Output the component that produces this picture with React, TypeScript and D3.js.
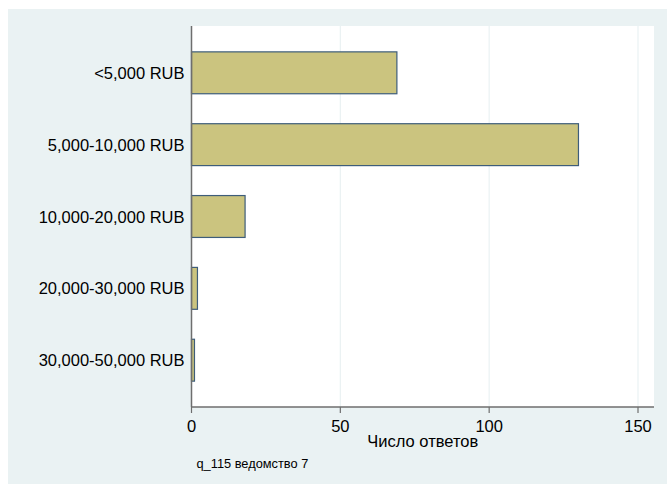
import React from "react";
import * as d3 from "d3";

const categories = ["<5,000 RUB", "5,000-10,000 RUB", "10,000-20,000 RUB", "20,000-30,000 RUB", "30,000-50,000 RUB"];
const counts = [69, 130, 18, 2, 1];
const xTicks = [0, 50, 100, 150];
const xTitle = "Число ответов";
const note = "q_115 ведомство 7";

export default function App() {
  const W = 667, H = 484;
  const plot = { left: 191.5, right: 654, top: 26, bottom: 407 };
  const x = d3.scaleLinear().domain([0, 150]).range([plot.left, 638]);
  const y = d3.scaleBand<string>().domain(categories).range([plot.top, plot.bottom]).paddingInner(0.417).paddingOuter(0.36);
  const font = "'Liberation Sans', Arial, sans-serif";
  const fs = 16.5;
  return (
    <svg width={W} height={H} style={{ position: "absolute", left: 0, top: 0 }}>
      <rect x={0} y={0} width={W} height={H} fill="#ffffff" />
      <rect x={8} y={9} width={W - 8} height={H - 9} fill="#EAF2F3" />
      <rect x={plot.left} y={plot.top} width={plot.right - plot.left} height={plot.bottom - plot.top} fill="#ffffff" />
      {xTicks.filter((t) => t > 0).map((t) => (
        <line key={t} x1={x(t)} x2={x(t)} y1={plot.top} y2={plot.bottom} stroke="#EAF2F3" strokeWidth={1.2} />
      ))}
      {categories.map((c, i) => (
        <rect
          key={c}
          x={x(0)}
          y={y(c)!}
          width={x(counts[i]) - x(0)}
          height={y.bandwidth()}
          fill="#CBC47F"
          stroke="#3E5D7A"
          strokeWidth={1.2}
        />
      ))}
      <line x1={plot.left} x2={plot.left} y1={plot.top} y2={plot.bottom} stroke="#6E6E6E" strokeWidth={1.5} />
      <line x1={plot.left} x2={plot.right} y1={plot.bottom} y2={plot.bottom} stroke="#6E6E6E" strokeWidth={1.5} />
      {xTicks.map((t) => (
        <g key={t}>
          <line x1={x(t)} x2={x(t)} y1={plot.bottom} y2={plot.bottom + 6} stroke="#6E6E6E" strokeWidth={1.2} />
          <text x={x(t)} y={432} textAnchor="middle" fontFamily={font} fontSize={fs} fill="#000">{t}</text>
        </g>
      ))}
      {categories.map((c) => (
        <text key={c} x={184.5} y={y(c)! + y.bandwidth() / 2 + 6} textAnchor="end" fontFamily={font} fontSize={fs} fill="#000">{c}</text>
      ))}
      <text x={(plot.left + plot.right) / 2} y={447} textAnchor="middle" fontFamily={font} fontSize={fs} fill="#000">{xTitle}</text>
      <text x={196.5} y={468} fontFamily={font} fontSize={12.8} fill="#000">{note}</text>
    </svg>
  );
}
